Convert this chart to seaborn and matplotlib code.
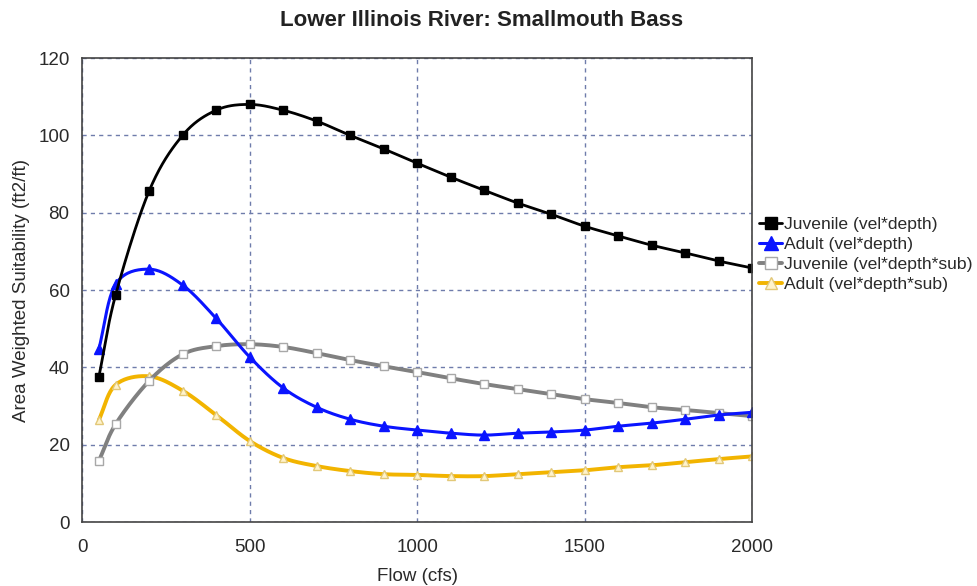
import matplotlib
matplotlib.use("Agg")
import matplotlib.pyplot as plt
import seaborn as sns
import pandas as pd
import numpy as np
from matplotlib.ticker import MultipleLocator

flow = [50, 100, 200, 300, 400, 500, 600, 700, 800, 900, 1000,
        1100, 1200, 1300, 1400, 1500, 1600, 1700, 1800, 1900, 2000]
juv_vd = [37.5, 58.7, 85.6, 100.0, 106.5, 108.0, 106.5, 103.7, 100.0, 96.5, 92.8,
          89.2, 85.8, 82.5, 79.6, 76.5, 74.0, 71.6, 69.6, 67.5, 65.7]
adult_vd = [44.7, 61.5, 65.4, 61.3, 52.7, 42.7, 34.7, 29.7, 26.6, 24.8, 23.8,
            23.0, 22.5, 23.0, 23.3, 23.8, 24.8, 25.6, 26.6, 27.7, 28.4]
juv_vds = [15.8, 25.3, 36.5, 43.4, 45.5, 46.0, 45.3, 43.7, 41.9, 40.3, 38.8,
           37.2, 35.7, 34.4, 33.1, 31.8, 30.8, 29.7, 29.0, 28.2, 27.4]
adult_vds = [26.4, 35.5, 37.7, 34.0, 27.7, 21.0, 16.6, 14.5, 13.2, 12.4, 12.2,
             11.9, 11.9, 12.4, 12.9, 13.4, 14.2, 14.7, 15.5, 16.3, 17.0]

series_names = ["Juvenile (vel*depth)", "Adult (vel*depth)",
                "Juvenile (vel*depth*sub)", "Adult (vel*depth*sub)"]
title = "Lower Illinois River: Smallmouth Bass"
xlabel = "Flow (cfs)"
ylabel = "Area Weighted Suitability (ft2/ft)"


def smooth_path(x, y, n=20):
    """Catmull-Rom rendering of the connecting line (drawing only)."""
    x = np.asarray(x, float)
    y = np.asarray(y, float)
    px = np.concatenate([[2 * x[0] - x[1]], x, [2 * x[-1] - x[-2]]])
    py = np.concatenate([[2 * y[0] - y[1]], y, [2 * y[-1] - y[-2]]])
    t = np.linspace(0, 1, n, endpoint=False)
    xs, ys = [], []
    for i in range(1, len(px) - 2):
        for P, out in ((px, xs), (py, ys)):
            p0, p1, p2, p3 = P[i - 1], P[i], P[i + 1], P[i + 2]
            out.extend(0.5 * ((2 * p1) + (-p0 + p2) * t
                              + (2 * p0 - 5 * p1 + 4 * p2 - p3) * t ** 2
                              + (-p0 + 3 * p1 - 3 * p2 + p3) * t ** 3))
    xs.append(x[-1])
    ys.append(y[-1])
    return np.array(xs), np.array(ys)


sns.set_theme(style="white")
plt.rcParams['font.family'] = ['Liberation Sans', 'DejaVu Sans']

fig = plt.figure(figsize=(9.77, 5.86), dpi=100)
ax = fig.add_axes([0.084, 0.109, 0.686, 0.792])

styles = [
    dict(color="black", marker="s", mfc="black", mec="black", lw=2.0, ms=6),
    dict(color="#0a14ff", marker="^", mfc="#0a14ff", mec="#0a14ff", lw=2.2, ms=7),
    dict(color="#808080", marker="s", mfc="white", mec="#a8a8a8", lw=2.8, ms=6),
    dict(color="#f2b400", marker="^", mfc="#fff3cc", mec="#e2c878", lw=2.8, ms=6),
]
data = [juv_vd, adult_vd, juv_vds, adult_vds]
order = [3, 2, 1, 0]
handles = {}
for i in order:
    st = styles[i]
    sx, sy = smooth_path(flow, data[i])
    sns.lineplot(x=sx, y=sy, ax=ax, color=st["color"], lw=st["lw"],
                 sort=False, estimator=None, legend=False)
    df = pd.DataFrame({"flow": flow, "val": data[i]})
    sns.lineplot(data=df, x="flow", y="val", ax=ax, lw=0,
                 marker=st["marker"], markerfacecolor=st["mfc"],
                 markeredgecolor=st["mec"], markersize=st["ms"],
                 markeredgewidth=1.0, legend=False)
    handles[i] = plt.Line2D([], [], color=st["color"], lw=st["lw"],
                            marker=st["marker"], markerfacecolor=st["mfc"],
                            markeredgecolor=st["mec"], markersize=st["ms"] + 3,
                            markeredgewidth=1.0)

ax.set_xlim(0, 2000)
ax.set_ylim(0, 120)
ax.xaxis.set_major_locator(MultipleLocator(500))
ax.xaxis.set_minor_locator(MultipleLocator(100))
ax.yaxis.set_major_locator(MultipleLocator(20))
ax.yaxis.set_minor_locator(MultipleLocator(4))
ax.tick_params(axis="both", which="both", direction="in", colors="#555555",
               labelcolor="#2a2a2a", labelsize=13.5)
ax.tick_params(which="major", length=5)
ax.tick_params(which="minor", length=3)
ax.tick_params(axis="x", which="major", pad=12)
ax.tick_params(axis="y", which="major", pad=9)
ax.grid(True, which="major", linestyle=(0, (3, 3)), color="#6f7cab", lw=1.0)
for sp in ax.spines.values():
    sp.set_color("#444444")
    sp.set_linewidth(1.2)

fig.suptitle(title, x=0.493, y=0.965, va="center", fontsize=16,
             fontweight="bold", color="#222222")
ax.set_xlabel(xlabel, fontsize=13.5, color="#2a2a2a", labelpad=9)
ax.set_ylabel(ylabel, fontsize=13.5, color="#2a2a2a", labelpad=6)

leg = ax.legend([handles[i] for i in range(4)], series_names,
                loc="upper left", bbox_to_anchor=(1.0, 0.672), frameon=False,
                fontsize=12.6, handlelength=1.3, handletextpad=0.1,
                labelspacing=0.27, borderaxespad=0.0)
for t in leg.get_texts():
    t.set_color("#2a2a2a")

fig.savefig("out.png", dpi=100)
